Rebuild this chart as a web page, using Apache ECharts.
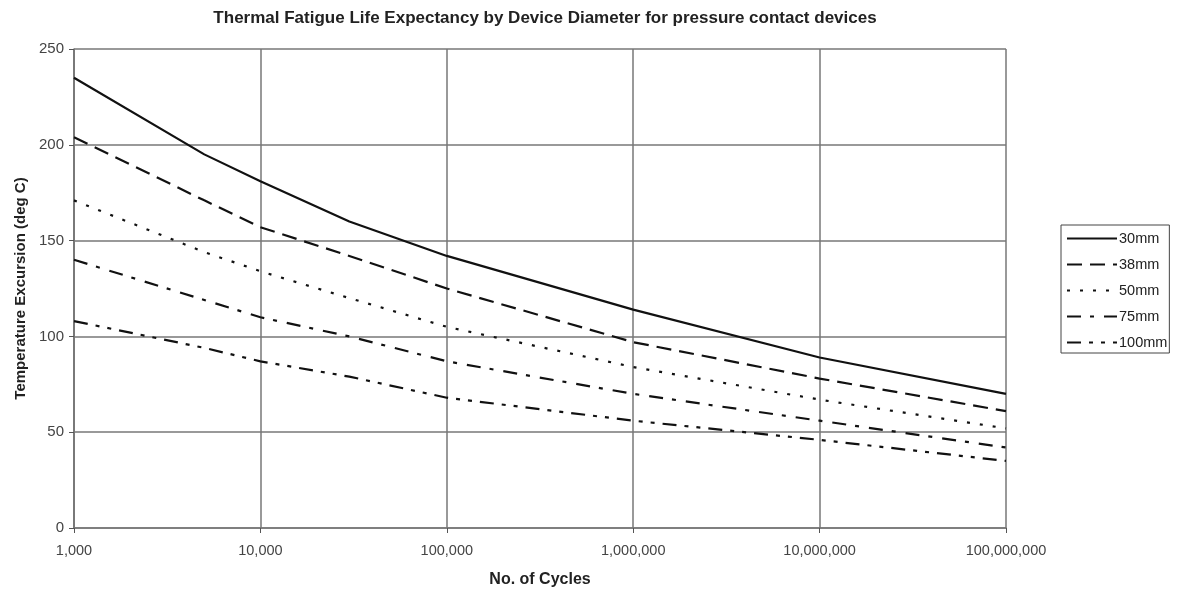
<!DOCTYPE html>
<html>
<head>
<meta charset="utf-8">
<script src="https://cdn.jsdelivr.net/npm/echarts@6/dist/echarts.min.js"></script>
<style>
	html, body { margin: 0; padding: 0; background: #fff; }
	#main { width: 1179px; height: 594px; }
</style>
</head>
<body>
<div id="main"></div>
<script>
// number of cycles where the curves were read
var cycles = [1000, 5000, 10000, 30000, 100000, 1000000, 10000000, 100000000];
var names = ['30mm', '38mm', '50mm', '75mm', '100mm'];
// temperature excursion (deg C)
var d30 = [235, 195, 181, 160, 142, 114, 89, 70];
var d38 = [204, 171, 157, 142, 125, 97, 78, 61];
var d50 = [171, 144, 134, 120, 105, 84, 67, 52];
var d75 = [140, 119, 110, 100, 87, 70, 56, 42];
var d100 = [108, 94, 87, 79, 68, 56, 46, 35];

function pairs(vals) {
	return cycles.map(function (c, i) { return [c, vals[i]]; });
}

var dashes = ['solid', [15, 8], [3, 10], [14, 9, 4, 10], [14, 8, 4, 8, 4, 8]];
var allData = [d30, d38, d50, d75, d100];

var myChart = echarts.init(document.getElementById('main'));
var option = {
	animation: false,
	backgroundColor: '#fff',
	textStyle: { fontFamily: 'Liberation Sans, Arial, sans-serif' },
	title: {
		text: 'Thermal Fatigue Life Expectancy by Device Diameter for pressure contact devices',
		left: 540,
		textAlign: 'center',
		top: 5,
		textStyle: { fontSize: 17, fontWeight: 'bold', color: '#222' }
	},
	legend: {
		orient: 'vertical',
		left: 1061,
		top: 225,
		padding: [6, 2, 3, 5],
		borderColor: '#444',
		borderWidth: 1,
		itemWidth: 50,
		itemHeight: 14,
		itemGap: 11,
		data: names,
		itemStyle: { opacity: 0 },
		textStyle: { fontSize: 14.5, color: '#222', padding: [0, 0, 0, -3] }
	},
	grid: {
		left: 74,
		right: 173,
		top: 49,
		bottom: 66,
		containLabel: false,
		outerBoundsMode: 'none'
	},
	xAxis: {
		type: 'log',
		logBase: 10,
		min: 1000,
		max: 100000000,
		name: 'No. of Cycles',
		nameLocation: 'middle',
		nameGap: 44,
		nameTextStyle: { fontSize: 16, fontWeight: 'bold', color: '#222' },
		axisLine: { lineStyle: { color: '#777', width: 1.5 } },
		axisTick: { show: true, length: 5, lineStyle: { color: '#555' } },
		minorTick: { show: false },
		splitLine: { show: true, lineStyle: { color: '#777', width: 1.5 } },
		axisLabel: {
			fontSize: 14.5,
			color: '#444',
			margin: 15,
			formatter: function (v) { return Math.round(v).toLocaleString('en-US'); }
		}
	},
	yAxis: {
		type: 'value',
		min: 0,
		max: 250,
		interval: 50,
		name: 'Temperature Excursion (deg C)',
		nameLocation: 'middle',
		nameGap: 46,
		nameTextStyle: { fontSize: 15, fontWeight: 'bold', color: '#222' },
		axisLine: { show: true, lineStyle: { color: '#777', width: 1.5 } },
		axisTick: { show: true, length: 5, lineStyle: { color: '#555' } },
		splitLine: { show: true, lineStyle: { color: '#777', width: 1.5 } },
		axisLabel: { fontSize: 15, color: '#444', margin: 10 }
	},
	series: names.map(function (n, i) {
		return {
			name: n,
			type: 'line',
			data: pairs(allData[i]),
			symbol: 'none',
			showSymbol: false,
			color: '#111',
			lineStyle: { color: '#111', width: 2.2, type: dashes[i] }
		};
	})
};
myChart.setOption(option);
</script>
</body>
</html>
